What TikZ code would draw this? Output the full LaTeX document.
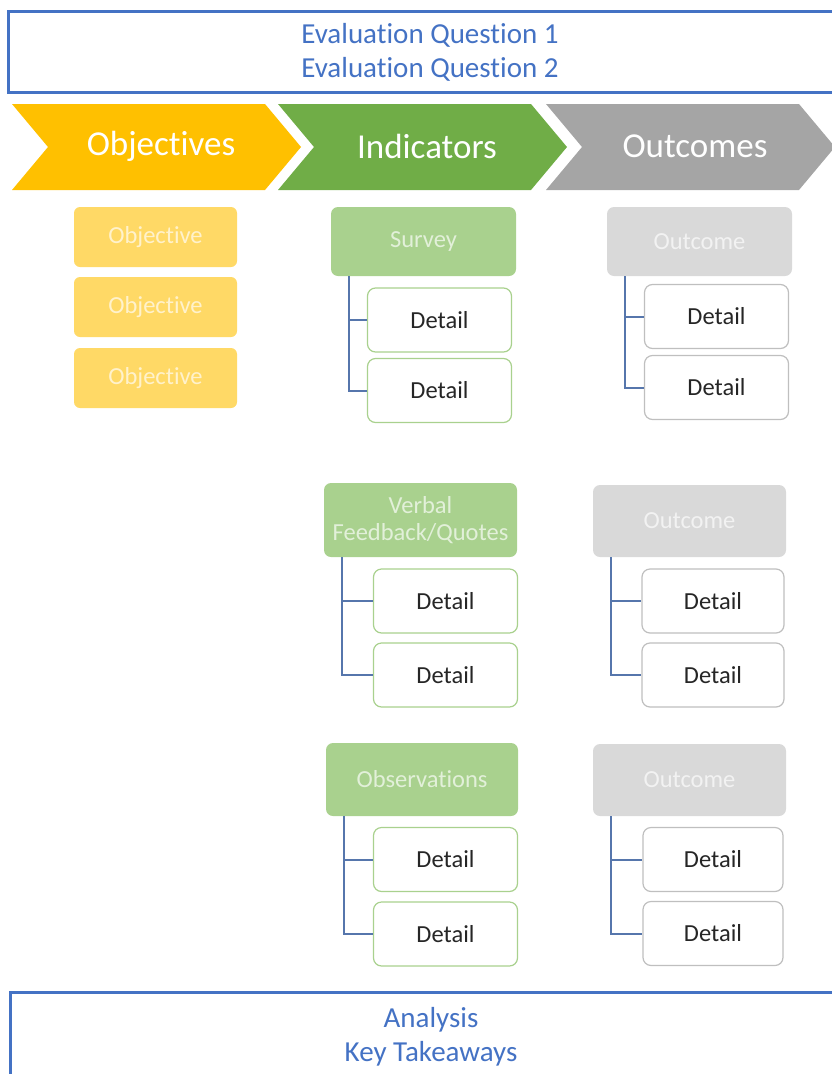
\documentclass[tikz,border=0pt]{standalone}
\usepackage{fontspec}
\setmainfont{Carlito}[Ligatures=NoCommon]

\definecolor{planblue}{HTML}{4472C4}
\definecolor{linkblue}{HTML}{5676AC}
\definecolor{objdark}{HTML}{FFC000}
\definecolor{objlight}{HTML}{FFD966}
\definecolor{objtext}{HTML}{FFF2CC}
\definecolor{inddark}{HTML}{70AD47}
\definecolor{indlight}{HTML}{A9D18E}
\definecolor{indtext}{HTML}{E2F0D9}
\definecolor{outdark}{HTML}{A5A5A5}
\definecolor{outlight}{HTML}{D9D9D9}
\definecolor{outtext}{HTML}{F2F2F2}
\definecolor{outborder}{HTML}{BFBFBF}
\definecolor{detailtext}{HTML}{262626}

\newcommand{\boxfont}{\fontsize{24.5}{27}\selectfont}

\begin{document}
\begin{tikzpicture}[x=1pt,y=-1pt]
    \tikzstyle{frame}=[draw=planblue,line width=3pt,text=planblue,align=center,minimum width=844pt,font=\fontsize{29}{34}\selectfont]
    \tikzstyle{stage}=[text=white,font=\fontsize{35}{40}\selectfont]
    \tikzstyle{objective}=[fill=objlight,rounded corners=6pt,minimum width=163pt,minimum height=60pt,text=objtext,font=\boxfont]
    \tikzstyle{indicator}=[fill=indlight,rounded corners=7pt,minimum width=190pt,minimum height=72pt,inner sep=0pt,align=center,text=indtext,font=\boxfont]
    \tikzstyle{outcome}=[indicator,fill=outlight,text=outtext]
    \tikzstyle{inddetail}=[draw=indlight,line width=1.2pt,fill=white,rounded corners=8pt,minimum width=144pt,minimum height=64pt,text=detailtext,font=\boxfont]
    \tikzstyle{outdetail}=[inddetail,draw=outborder]
    \tikzstyle{branch}=[draw=linkblue,line width=2pt]

    \useasboundingbox (0,0) rectangle (831,1074);

    % questions and analysis frames
    \node[frame,minimum height=81pt] (questions) at (430,52) {Evaluation Question 1\\Evaluation Question 2};
    \node[frame,minimum height=90pt,minimum width=842pt] (analysis) at (431,1037) {Analysis\\Key Takeaways};

    % chevron bar
    \foreach \s/\col/\lab/\nm in {12/objdark/Objectives/objectives, 278/inddark/Indicators/indicators, 546/outdark/Outcomes/outcomes} {
      \fill[\col] (\s,104) -- ++(253,0) -- ++(36,43) -- ++(-36,43) -- ++(-253,0) -- ++(36,-43) -- cycle;
      \node[stage] (\nm) at ({\s+149},146) {\lab};
    }

    % objectives
    \node[objective] (obj1) at (155.5,237) {Objective};
    \node[objective] (obj2) at (155.5,307) {Objective};
    \node[objective] (obj3) at (155.5,378) {Objective};

    % indicators
    \node[indicator,minimum width=185pt,minimum height=69pt] (survey) at (423.5,241.5) {Survey};
    \node[inddetail] (survey-1) at (439.5,320) {Detail};
    \node[inddetail] (survey-2) at (439.5,390.5) {Detail};

    \node[indicator,minimum width=193pt,minimum height=74pt] (verbal) at (420.5,520) {Verbal\\Feedback/Quotes};
    \node[inddetail] (verbal-1) at (445.5,601) {Detail};
    \node[inddetail] (verbal-2) at (445.5,675) {Detail};

    \node[indicator,minimum width=192pt,minimum height=73pt] (observ) at (422,779.5) {Observations};
    \node[inddetail] (observ-1) at (445.5,859.5) {Detail};
    \node[inddetail] (observ-2) at (445.5,934) {Detail};

    % outcomes
    \node[outcome,minimum width=185pt,minimum height=69pt] (outa) at (699.5,241.5) {Outcome};
    \node[outdetail] (outa-1) at (716.5,316.5) {Detail};
    \node[outdetail] (outa-2) at (716.5,387.5) {Detail};

    \node[outcome,minimum width=193pt] (outb) at (689.5,521) {Outcome};
    \node[outdetail,minimum width=142pt] (outb-1) at (713,601) {Detail};
    \node[outdetail,minimum width=142pt] (outb-2) at (713,675) {Detail};

    \node[outcome,minimum width=193pt] (outc) at (689.5,780) {Outcome};
    \node[outdetail,minimum width=140pt] (outc-1) at (713,859.5) {Detail};
    \node[outdetail,minimum width=140pt] (outc-2) at (713,933.5) {Detail};

    % branches down to the details
    \foreach \h in {survey,verbal,observ,outa,outb,outc} {
      \draw[branch] ([xshift=18pt]\h.south west) |- (\h-2.west);
      \draw[branch] ([xshift=18pt]\h.south west) |- (\h-1.west);
    }
\end{tikzpicture}
\end{document}
